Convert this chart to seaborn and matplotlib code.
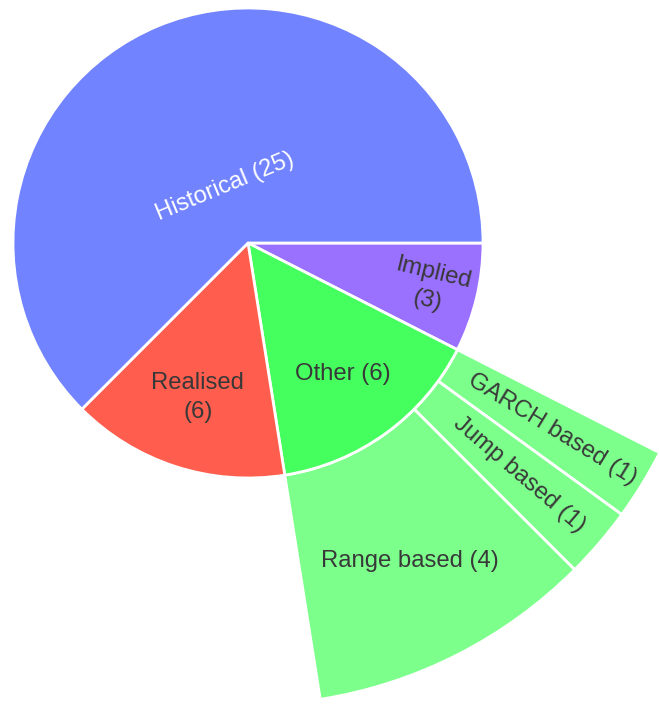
import numpy as np
import matplotlib
matplotlib.use("Agg")
import matplotlib.pyplot as plt
import seaborn as sns

# Inner ring: volatility estimator families (number of studies)
categories = ["Implied", "Other", "Realised", "Historical"]
counts = [3, 6, 6, 25]

# Outer ring: breakdown of "Other"
other_parts = ["GARCH based", "Jump based", "Range based"]
other_counts = [1, 1, 4]

inner_colors = ["#9a70ff", "#45ff5f", "#ff5e4e", "#7183ff"]
outer_color = "#7dff8c"
text_dark = "#383838"

sns.set_theme(style="white")
plt.rcParams["font.family"] = ["Liberation Sans", "DejaVu Sans"]

W, H = 659, 706
fig = plt.figure(figsize=(W / 100, H / 100), dpi=100)
ax = fig.add_axes([0, 0, 1, 1])

cx, cy = 248, H - 243
r_in, r_out = 235, 462
total = sum(counts)
fs = 17.2

# Outer ring first (only the "Other" segment is visible)
lead = sum(counts[:1])
tail = total - lead - sum(other_counts)
outer_vals = [lead] + other_counts + [tail]
outer_cols = ["none"] + [outer_color] * len(other_counts) + ["none"]
wedges, _ = ax.pie(outer_vals, radius=r_out, center=(cx, cy), startangle=0,
                   counterclock=False, colors=outer_cols, frame=True,
                   wedgeprops=dict(width=r_out - r_in, linewidth=2,
                                   edgecolor="white"))
wedges[0].set_visible(False)
wedges[-1].set_visible(False)

ax.pie(counts, radius=r_in, center=(cx, cy), startangle=0, counterclock=False,
       colors=inner_colors, frame=True,
       wedgeprops=dict(edgecolor="white", linewidth=2))
ax.set_xlim(0, W)
ax.set_ylim(0, H)
ax.set_aspect("equal")
ax.axis("off")

# Inner labels
inner_text = ["Implied\n(3)", "Other (6)", "Realised\n(6)", "Historical (25)"]
inner_rfrac = [0.80, 0.69, 0.69, 0.26]
inner_mode = ["radial", "horizontal", "horizontal", "tangential"]
inner_tcol = [text_dark, text_dark, text_dark, "white"]
start = 0.0
for n, txt, rf, mode, tc in zip(counts, inner_text, inner_rfrac, inner_mode, inner_tcol):
    span = 360.0 * n / total
    mid = -(start + span / 2)
    start += span
    th = np.deg2rad(mid)
    x, y = cx + rf * r_in * np.cos(th), cy + rf * r_in * np.sin(th)
    if mode == "radial":
        rot = mid
    elif mode == "tangential":
        rot = ((mid + 90 + 90) % 180) - 90
    else:
        rot = 0
    ax.text(x, y, txt, ha="center", va="center", rotation=rot,
            rotation_mode="anchor", fontsize=fs, color=tc,
            linespacing=1.4)

# Outer labels
outer_mode = ["radial", "radial", "horizontal"]
start = 360.0 * lead / total
r_mid = (r_in + r_out) / 2 + 8
for n, name, mode in zip(other_counts, other_parts, outer_mode):
    span = 360.0 * n / total
    mid = -(start + span / 2)
    start += span
    th = np.deg2rad(mid)
    x, y = cx + r_mid * np.cos(th), cy + r_mid * np.sin(th)
    rot = mid if mode == "radial" else 0
    ax.text(x, y, f"{name} ({n})", ha="center", va="center", rotation=rot,
            rotation_mode="anchor", fontsize=fs, color=text_dark)

fig.savefig("out.png", dpi=100, facecolor="white")
